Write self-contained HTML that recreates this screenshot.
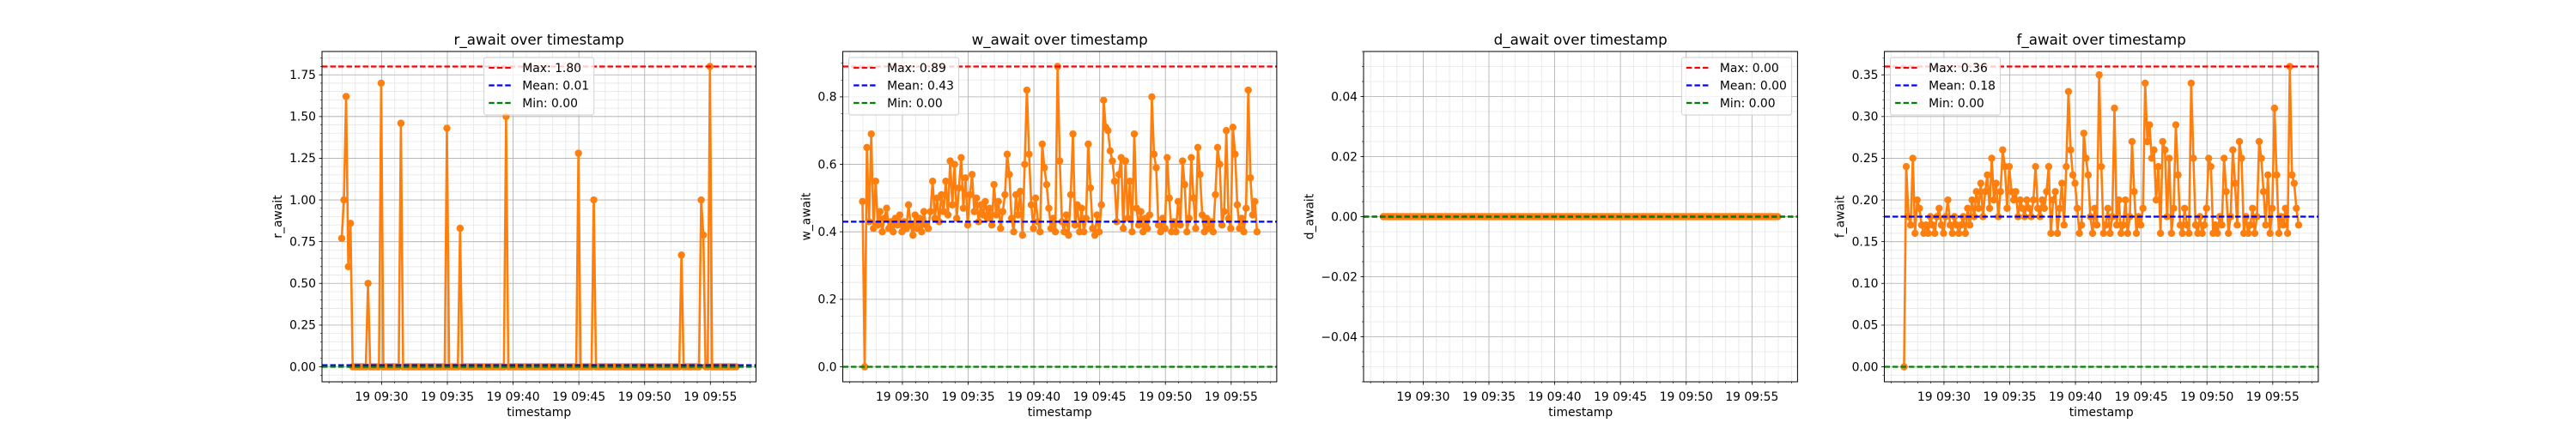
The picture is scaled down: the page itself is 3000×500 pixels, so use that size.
<!DOCTYPE html>
<html>
<head>
<meta charset="utf-8">
<style>
  html, body { margin: 0; padding: 0; background: #fff; }
  svg { display: block; font-family: "DejaVu Sans", "Liberation Sans", sans-serif; }
</style>
</head>
<body>
<svg id="fig" width="3000" height="500" viewBox="0 0 3000 500" xmlns="http://www.w3.org/2000/svg">
  <rect x="0" y="0" width="3000" height="500" fill="#ffffff"/>
</svg>
<script>
// ---- data (sampled every 10 s starting 09:26:58) ----
const startHour = 9;
const startMinute = 26;
const startSecond = 58;
const sampleIntervalSeconds = 10;

const rAwait = [
  0.77, 1.00, 1.62, 0.60, 0.86, 0, 0, 0, 0, 0,
  0, 0, 0.50, 0, 0, 0, 0, 0, 1.70, 0,
  0, 0, 0, 0, 0, 0, 0, 1.46, 0, 0,
  0, 0, 0, 0, 0, 0, 0, 0, 0, 0,
  0, 0, 0, 0, 0, 0, 0, 0, 1.43, 0,
  0, 0, 0, 0, 0.83, 0, 0, 0, 0, 0,
  0, 0, 0, 0, 0, 0, 0, 0, 0, 0,
  0, 0, 0, 0, 0, 1.50, 0, 0, 0, 0,
  0, 0, 0, 0, 0, 0, 0, 0, 0, 0,
  0, 0, 0, 0, 0, 0, 0, 0, 0, 0,
  0, 0, 0, 0, 0, 0, 0, 0, 1.28, 0,
  0, 0, 0, 0, 0, 1.00, 0, 0, 0, 0,
  0, 0, 0, 0, 0, 0, 0, 0, 0, 0,
  0, 0, 0, 0, 0, 0, 0, 0, 0, 0,
  0, 0, 0, 0, 0, 0, 0, 0, 0, 0,
  0, 0, 0, 0, 0, 0.67, 0, 0, 0, 0,
  0, 0, 0, 0, 1.00, 0.79, 0, 0, 1.80, 0,
  0, 0, 0, 0, 0, 0, 0, 0, 0, 0,
  0
];

const wAwait = [
  0.49, 0.00, 0.65, 0.43, 0.69, 0.41, 0.55, 0.42, 0.46, 0.40,
  0.44, 0.47, 0.41, 0.43, 0.40, 0.44, 0.42, 0.45, 0.40, 0.43,
  0.41, 0.48, 0.42, 0.39, 0.45, 0.41, 0.44, 0.40, 0.46, 0.42,
  0.41, 0.46, 0.55, 0.44, 0.50, 0.43, 0.51, 0.46, 0.55, 0.45,
  0.61, 0.48, 0.60, 0.44, 0.53, 0.62, 0.47, 0.56, 0.42, 0.51,
  0.57, 0.46, 0.50, 0.43, 0.48, 0.45, 0.49, 0.44, 0.47, 0.42,
  0.54, 0.45, 0.49, 0.41, 0.46, 0.51, 0.63, 0.57, 0.44, 0.40,
  0.51, 0.45, 0.52, 0.39, 0.60, 0.82, 0.63, 0.48, 0.41, 0.50,
  0.43, 0.40, 0.66, 0.59, 0.54, 0.47, 0.41, 0.44, 0.40, 0.89,
  0.61, 0.43, 0.40, 0.45, 0.39, 0.51, 0.69, 0.42, 0.48, 0.40,
  0.47, 0.40, 0.44, 0.66, 0.53, 0.41, 0.39, 0.45, 0.40, 0.48,
  0.79, 0.71, 0.70, 0.64, 0.61, 0.55, 0.43, 0.57, 0.62, 0.41,
  0.61, 0.44, 0.55, 0.40, 0.69, 0.47, 0.42, 0.46, 0.40, 0.44,
  0.41, 0.45, 0.80, 0.63, 0.59, 0.42, 0.40, 0.44, 0.41, 0.62,
  0.50, 0.40, 0.43, 0.40, 0.49, 0.42, 0.61, 0.54, 0.40, 0.44,
  0.62, 0.50, 0.41, 0.65, 0.57, 0.45, 0.40, 0.44, 0.41, 0.43,
  0.40, 0.51, 0.65, 0.60, 0.42, 0.46, 0.70, 0.44, 0.41, 0.71,
  0.63, 0.48, 0.41, 0.44, 0.40, 0.47, 0.82, 0.56, 0.45, 0.49,
  0.40
];

const dAwait = [
  0, 0, 0, 0, 0, 0, 0, 0, 0, 0,
  0, 0, 0, 0, 0, 0, 0, 0, 0, 0,
  0, 0, 0, 0, 0, 0, 0, 0, 0, 0,
  0, 0, 0, 0, 0, 0, 0, 0, 0, 0,
  0, 0, 0, 0, 0, 0, 0, 0, 0, 0,
  0, 0, 0, 0, 0, 0, 0, 0, 0, 0,
  0, 0, 0, 0, 0, 0, 0, 0, 0, 0,
  0, 0, 0, 0, 0, 0, 0, 0, 0, 0,
  0, 0, 0, 0, 0, 0, 0, 0, 0, 0,
  0, 0, 0, 0, 0, 0, 0, 0, 0, 0,
  0, 0, 0, 0, 0, 0, 0, 0, 0, 0,
  0, 0, 0, 0, 0, 0, 0, 0, 0, 0,
  0, 0, 0, 0, 0, 0, 0, 0, 0, 0,
  0, 0, 0, 0, 0, 0, 0, 0, 0, 0,
  0, 0, 0, 0, 0, 0, 0, 0, 0, 0,
  0, 0, 0, 0, 0, 0, 0, 0, 0, 0,
  0, 0, 0, 0, 0, 0, 0, 0, 0, 0,
  0, 0, 0, 0, 0, 0, 0, 0, 0, 0,
  0
];

const fAwait = [
  0.00, 0.24, 0.18, 0.17, 0.25, 0.16, 0.20, 0.19, 0.17, 0.16,
  0.17, 0.16, 0.18, 0.17, 0.16, 0.18, 0.19, 0.17, 0.16, 0.18,
  0.20, 0.17, 0.16, 0.18, 0.17, 0.16, 0.17, 0.18, 0.16, 0.19,
  0.17, 0.20, 0.18, 0.21, 0.19, 0.22, 0.18, 0.21, 0.23, 0.19,
  0.25, 0.20, 0.22, 0.18, 0.21, 0.26, 0.24, 0.19, 0.24, 0.21,
  0.20, 0.21, 0.18, 0.20, 0.19, 0.18, 0.20, 0.19, 0.18, 0.20,
  0.24, 0.19, 0.18, 0.20, 0.19, 0.21, 0.24, 0.16, 0.20, 0.21,
  0.16, 0.19, 0.22, 0.17, 0.24, 0.33, 0.26, 0.23, 0.22, 0.19,
  0.16, 0.17, 0.28, 0.25, 0.23, 0.18, 0.16, 0.19, 0.17, 0.35,
  0.24, 0.16, 0.17, 0.19, 0.16, 0.18, 0.31, 0.17, 0.20, 0.16,
  0.17, 0.20, 0.16, 0.18, 0.27, 0.21, 0.16, 0.18, 0.17, 0.19,
  0.34, 0.27, 0.29, 0.25, 0.26, 0.20, 0.24, 0.16, 0.27, 0.26,
  0.18, 0.25, 0.16, 0.19, 0.29, 0.23, 0.17, 0.16, 0.19, 0.17,
  0.16, 0.34, 0.25, 0.17, 0.16, 0.18, 0.16, 0.17, 0.19, 0.25,
  0.24, 0.16, 0.17, 0.16, 0.18, 0.17, 0.25, 0.21, 0.16, 0.18,
  0.26, 0.22, 0.17, 0.27, 0.25, 0.16, 0.18, 0.16, 0.17, 0.19,
  0.16, 0.18, 0.27, 0.25, 0.21, 0.17, 0.23, 0.16, 0.19, 0.31,
  0.23, 0.16, 0.18, 0.17, 0.19, 0.16, 0.36, 0.23, 0.22, 0.19,
  0.17
];

// legend statistics (as printed in the reference)
const metricNames = ["r_await", "w_await", "d_await", "f_await"];
const statMax = [1.80, 0.89, 0.00, 0.36];
const statMean = [0.01, 0.43, 0.00, 0.18];
const statMin = [0.00, 0.00, 0.00, 0.00];
const yMajorSteps = [0.25, 0.2, 0.02, 0.05];
const yMinorSteps = [0.05, 0.05, 0.005, 0.01];
const yDecimals = [2, 1, 2, 2];
const legendLocs = ["upper center", "upper left", "upper right", "upper left"];
const xMajorTickMinutes = [30, 35, 40, 45, 50, 55];

// ---- layout ----
const SVGNS = "http://www.w3.org/2000/svg";
const svg = document.getElementById("fig");
const axLefts = [375, 981.5, 1588, 2194.5];
const axW = 505.4, axTop = 60, axBottom = 445;
const seriesList = [rAwait, wAwait, dAwait, fAwait];
const ORANGE = "#ff7f0e";

function mk(tag, attrs, parent) {
  const e = document.createElementNS(SVGNS, tag);
  for (const k in attrs) e.setAttribute(k, attrs[k]);
  (parent || svg).appendChild(e);
  return e;
}
function pad2(n) { return (n < 10 ? "0" : "") + n; }
function fmt(v, d) {
  let s = Math.abs(v).toFixed(d);
  if (v < -1e-12) s = "\u2212" + s;
  return s;
}

for (let p = 0; p < 4; p++) {
  const vals = seriesList[p];
  const g = mk("g", {});
  
  
  const L = axLefts[p], R = L + axW;

  const t0 = startMinute + startSecond / 60;
  const times = vals.map((_, i) => t0 + i * sampleIntervalSeconds / 60);
  const tmin = times[0], tmax = times[times.length - 1];
  const tspan = tmax - tmin;
  const xlo = tmin - 0.05 * tspan, xhi = tmax + 0.05 * tspan;
  const X = t => L + (t - xlo) / (xhi - xlo) * axW;

  let dmin = Math.min(...vals), dmax = Math.max(...vals);
  if (dmax - dmin < 1e-12) { dmin -= 0.05; dmax += 0.05; }
  const yspan = dmax - dmin;
  const ylo = dmin - 0.05 * yspan, yhi = dmax + 0.05 * yspan;
  const Y = v => axBottom - (v - ylo) / (yhi - ylo) * (axBottom - axTop);

  const grid = mk("g", {}, g);
  
  

  const yMin = yMinorSteps[p], yMaj = yMajorSteps[p];
  for (let k = Math.ceil(ylo / yMin - 1e-9); k * yMin <= yhi + 1e-9; k++) {
    const v = k * yMin, y = Y(v);
    mk("line", { x1: L, x2: R, y1: y, y2: y, stroke: "#e6e6e6", "stroke-width": 0.8 }, grid);
    mk("line", { x1: L - 2, x2: L, y1: y, y2: y, stroke: "#000", "stroke-width": 0.6 }, g);
  }
  for (let m = Math.ceil(xlo); m <= xhi; m++) {
    const x = X(m);
    mk("line", { x1: x, x2: x, y1: axTop, y2: axBottom, stroke: "#e6e6e6", "stroke-width": 0.8 }, grid);
    mk("line", { x1: x, x2: x, y1: axBottom, y2: axBottom + 2, stroke: "#000", "stroke-width": 0.6 }, g);
  }
  const yTickLabels = [];
  for (let k = Math.ceil(ylo / yMaj - 1e-9); k * yMaj <= yhi + 1e-9; k++) {
    const v = k * yMaj, y = Y(v);
    mk("line", { x1: L, x2: R, y1: y, y2: y, stroke: "#b0b0b0", "stroke-width": 0.8 }, grid);
    mk("line", { x1: L - 3.5, x2: L, y1: y, y2: y, stroke: "#000", "stroke-width": 0.8 }, g);
    const t = mk("text", { x: L - 7, y: y + 4.8, "text-anchor": "end", "font-size": 13.9, fill: "#000" }, g);
    t.textContent = fmt(v, yDecimals[p]);
    
    
    yTickLabels.push(t);
  }
  for (const m of xMajorTickMinutes) {
    if (m < xlo || m > xhi) continue;
    const x = X(m);
    mk("line", { x1: x, x2: x, y1: axTop, y2: axBottom, stroke: "#b0b0b0", "stroke-width": 0.8 }, grid);
    mk("line", { x1: x, x2: x, y1: axBottom, y2: axBottom + 3.5, stroke: "#000", "stroke-width": 0.8 }, g);
    const t = mk("text", { x: x, y: 467, "text-anchor": "middle", "font-size": 13.9, fill: "#000" }, g);
    t.textContent = "19 " + pad2(startHour) + ":" + pad2(m);
    
    
  }

  const pts = vals.map((v, i) => X(times[i]).toFixed(2) + "," + Y(v).toFixed(2)).join(" ");
  const line = mk("polyline", { points: pts, fill: "none", stroke: ORANGE, "stroke-width": 2.6, "stroke-linejoin": "round" }, g);
  
  
  const mg = mk("g", { fill: ORANGE }, g);
  
  
  vals.forEach((v, i) => {
    const c = mk("circle", { cx: X(times[i]).toFixed(2), cy: Y(v).toFixed(2), r: 4.2 }, mg);
    
    
  });

  const refs = [[statMax[p], "#ff0000", "max-line"], [statMean[p], "#0000ff", "mean-line"], [statMin[p], "#008000", "min-line"]];
  refs.forEach(([v, col, nm]) => {
    const y = Y(v);
    const l = mk("line", { x1: L, x2: R, y1: y, y2: y, stroke: col, "stroke-width": 2.2, "stroke-dasharray": "6.5,3" }, g);
    
    
  });

  const frame = mk("rect", { x: L, y: axTop, width: axW, height: axBottom - axTop, fill: "none", stroke: "#000", "stroke-width": 1 }, g);
  
  

  const title = mk("text", { x: L + axW / 2, y: 52, "text-anchor": "middle", "font-size": 16.7, fill: "#000" }, g);
  title.textContent = metricNames[p] + " over timestamp";
  
  
  const xl = mk("text", { x: L + axW / 2, y: 485, "text-anchor": "middle", "font-size": 13.9, fill: "#000" }, g);
  xl.textContent = "timestamp";
  
  
  let maxW = 0;
  yTickLabels.forEach(t => { maxW = Math.max(maxW, t.getComputedTextLength()); });
  const ylx = L - 7 - maxW - 9;
  const yl = mk("text", { x: ylx, y: (axTop + axBottom) / 2, "text-anchor": "middle", "font-size": 13.9, fill: "#000", transform: "rotate(-90 " + ylx + " " + ((axTop + axBottom) / 2) + ")" }, g);
  yl.textContent = metricNames[p];
  
  

  const lg = mk("g", {}, g);
  
  
  const labels = ["Max: " + statMax[p].toFixed(2), "Mean: " + statMean[p].toFixed(2), "Min: " + statMin[p].toFixed(2)];
  const cols = ["#ff0000", "#0000ff", "#008000"];
  const box = mk("rect", { x: 0, y: 67, width: 10, height: 67, rx: 2.5, fill: "#ffffff", "fill-opacity": 0.8, stroke: "#cccccc", "stroke-width": 0.9 }, lg);
  
  
  const texts = [];
  const rowsY = [79, 99.5, 120];
  labels.forEach((lab, i) => {
    const ln = mk("line", { x1: 0, x2: 0, y1: rowsY[i], y2: rowsY[i], stroke: cols[i], "stroke-width": 2.2, "stroke-dasharray": "6.5,3" }, lg);
    
    
    const tx = mk("text", { x: 0, y: rowsY[i] + 4.8, "font-size": 13.9, fill: "#000" }, lg);
    tx.textContent = lab;
    
    
    texts.push([ln, tx]);
  });
  let tw = 0;
  texts.forEach(([, tx]) => { tw = Math.max(tw, tx.getComputedTextLength()); });
  const lw = 5.6 + 28 + 11 + tw + 5.6;
  let lx;
  if (legendLocs[p] === "upper left") lx = L + 7;
  else if (legendLocs[p] === "upper right") lx = R - 7 - lw;
  else lx = L + axW / 2 - lw / 2;
  box.setAttribute("x", lx);
  box.setAttribute("width", lw);
  texts.forEach(([ln, tx]) => {
    ln.setAttribute("x1", lx + 5.6);
    ln.setAttribute("x2", lx + 33.6);
    tx.setAttribute("x", lx + 44.6);
  });
}
</script>
</body>
</html>
